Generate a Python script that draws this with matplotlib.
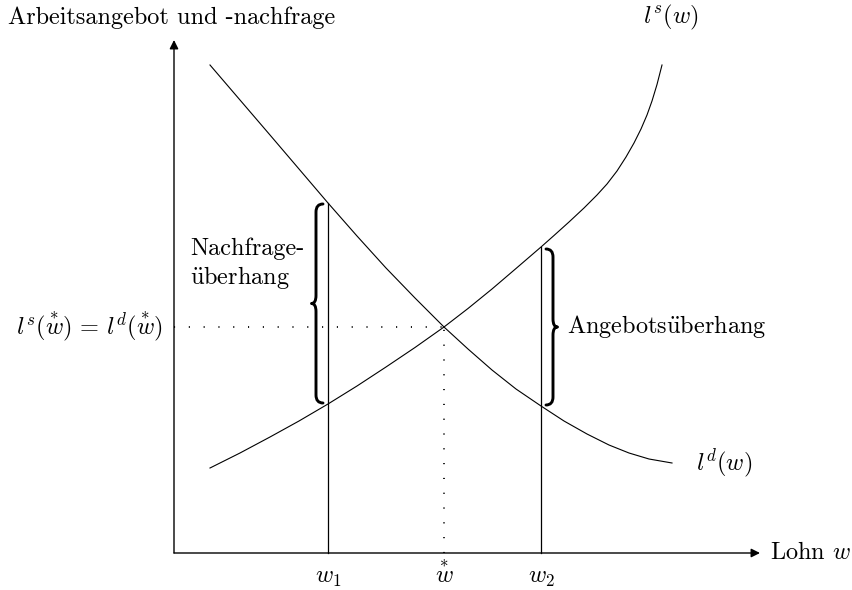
#Arbeitsmarkt: Angebot und Nachfrage mit Ueberhaengen
import matplotlib
matplotlib.use('Agg')
import matplotlib.pyplot as plt
from matplotlib.path import Path
from matplotlib.patches import PathPatch

plt.rcParams['mathtext.fontset'] = 'cm'
plt.rcParams['axes.formatter.use_mathtext'] = True
text_font = ['cmr10', 'DejaVu Serif']
font_size = 17.5

##########################################
#Data
w_demand = [3.6, 6.6, 9.6, 12.5, 15.4, 18.3, 21.2, 24.1, 27.0, 29.4, 31.8, 34.2, 36.7, 39.0, 41.3, 43.5, 45.5, 47.5, 49.8]
l_demand = [48.8, 45.3, 41.8, 38.4, 35.0, 31.7, 28.5, 25.5, 22.6, 20.4, 18.3, 16.4, 14.7, 13.2, 11.9, 10.8, 10.0, 9.4, 9.0]

w_supply = [3.6, 6.6, 9.6, 12.5, 15.4, 18.3, 21.2, 24.1, 27.0, 29.4, 31.8, 34.2, 36.7, 38.0, 39.5, 41.0, 42.3, 43.3, 44.3, 45.2, 46.0, 46.7, 47.3, 47.8, 48.3, 48.8]
l_supply = [8.5, 10.0, 11.6, 13.2, 14.9, 16.7, 18.6, 20.55, 22.6, 24.45, 26.4, 28.45, 30.6, 31.75, 33.1, 34.5, 35.8, 36.9, 38.2, 39.6, 41.0, 42.4, 43.8, 45.2, 46.85, 48.8]

w_1 = 15.4
w_star = 27.0
w_2 = 36.7
l_star = 22.6
ld_w1, ls_w1 = 35.0, 14.9
ls_w2, ld_w2 = 30.6, 14.7

x_max, y_max = 58.6, 51.3

##########################################
def brace(ax, x, y_lo, y_hi, tip_dir, curl=0.7, tip=0.45, r=0.8):
	ym = (y_lo + y_hi) / 2.
	d = tip_dir
	verts = [(x - d * curl, y_hi), (x, y_hi), (x, y_hi - r),
		(x, ym + r), (x, ym), (x + d * tip, ym),
		(x, ym), (x, ym - r),
		(x, y_lo + r), (x, y_lo), (x - d * curl, y_lo)]
	codes = [Path.MOVETO, Path.CURVE3, Path.CURVE3,
		Path.LINETO, Path.CURVE3, Path.CURVE3,
		Path.CURVE3, Path.CURVE3,
		Path.LINETO, Path.CURVE3, Path.CURVE3]
	ax.add_patch(PathPatch(Path(verts, codes), fill=False, lw=2.1, color='black', capstyle='round', joinstyle='round'))

##########################################
fig = plt.figure(figsize=[8.52, 5.9], dpi=100)
ax = fig.add_axes([0, 0, 1, 1])
ax.set_xlim(-17.4, 67.8)
ax.set_ylim(-3.7, 55.3)
ax.axis('off')

#Axes with arrows
ax.annotate('', xy=(x_max, 0), xytext=(0, 0), arrowprops=dict(arrowstyle='-|>', lw=1.0, color='black', mutation_scale=13, shrinkA=0, shrinkB=0))
ax.annotate('', xy=(0, y_max), xytext=(0, 0), arrowprops=dict(arrowstyle='-|>', lw=1.0, color='black', mutation_scale=13, shrinkA=0, shrinkB=0))

#Curves
ax.plot(w_demand, l_demand, color='black', lw=0.8)
ax.plot(w_supply, l_supply, color='black', lw=0.8)

#Vertical lines at w1 and w2
ax.plot([w_1, w_1], [0, ld_w1], color='black', lw=0.9)
ax.plot([w_2, w_2], [0, ls_w2], color='black', lw=0.9)

#Dotted equilibrium lines
ax.plot([0, w_star], [l_star, l_star], color='black', lw=1.3, linestyle=(0, (0.6, 7.6)))
ax.plot([w_star, w_star], [0, l_star], color='black', lw=1.3, linestyle=(0, (0.6, 7.6)))

#Braces
brace(ax, w_1 - 1.2, ls_w1 + 0.1, ld_w1 - 0.1, -1)
brace(ax, w_2 + 1.2, ld_w2 + 0.1, ls_w2 - 0.2, +1)

#Labels
uml = r'$\ddot{\mathrm{u}}$'
ax.text(-16.6, 53.5, 'Arbeitsangebot und -nachfrage', family=text_font, fontsize=font_size, va='center', ha='left')
ax.text(59.6, 0, 'Lohn $w$', family=text_font, fontsize=font_size, va='center', ha='left')
ax.text(49.7, 53.6, '$l^s(w)$', fontsize=font_size, va='center', ha='center')
ax.text(55.0, 9.0, '$l^d(w)$', fontsize=font_size, va='center', ha='center')
ax.text(-1.1, l_star, r'$l^s(\overset{*}{w})\,=\,l^d(\overset{*}{w})$', fontsize=font_size, va='center', ha='right')
ax.text(w_1, -3.0, '$w_1$', fontsize=font_size, va='baseline', ha='center')
ax.text(w_star, -3.0, r'$\overset{*}{w}$', fontsize=font_size, va='baseline', ha='center')
ax.text(w_2, -3.0, '$w_2$', fontsize=font_size, va='baseline', ha='center')
ax.text(1.6, 28.9, 'Nachfrage-\n' + uml + 'berhang', family=text_font, fontsize=font_size, va='center', ha='left', linespacing=1.2)
ax.text(39.3, l_star, 'Angebots' + uml + 'berhang', family=text_font, fontsize=font_size, va='center', ha='left')

plt.savefig('out.png', dpi=100)
